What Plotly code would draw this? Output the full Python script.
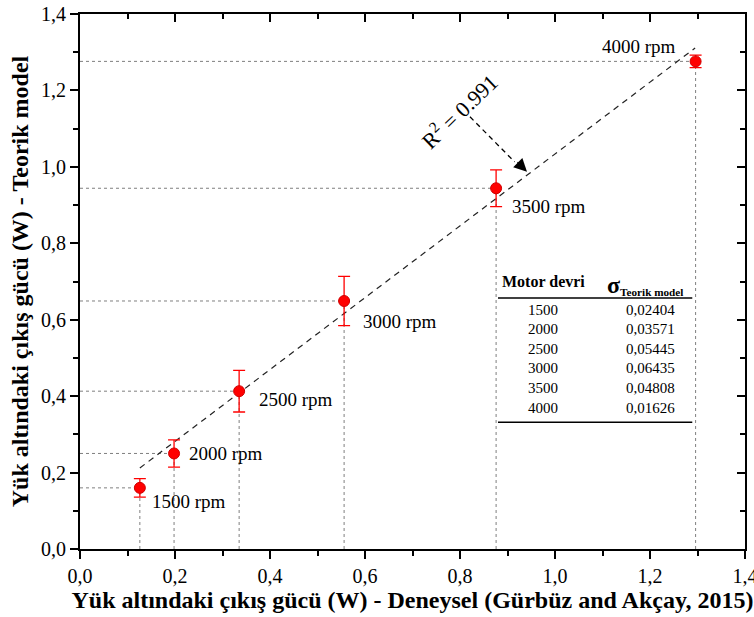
import plotly.graph_objects as go

# Data
rpm_labels = ["1500 rpm", "2000 rpm", "2500 rpm", "3000 rpm", "3500 rpm", "4000 rpm"]
x_exp = [0.126, 0.198, 0.335, 0.556, 0.876, 1.296]
y_model = [0.160, 0.250, 0.413, 0.649, 0.944, 1.276]
sigma = [0.02404, 0.03571, 0.05445, 0.06435, 0.04808, 0.01626]
table_rpm = ["1500", "2000", "2500", "3000", "3500", "4000"]
table_sigma = ["0,02404", "0,03571", "0,05445", "0,06435", "0,04808", "0,01626"]
fit_x = [0.126, 1.295]
fit_y = [0.212, 1.311]
r2_text = "R<sup>2</sup> = 0.991"
tick_vals = [0.0, 0.2, 0.4, 0.6, 0.8, 1.0, 1.2, 1.4]
tick_text = ["0,0", "0,2", "0,4", "0,6", "0,8", "1,0", "1,2", "1,4"]

FONT = "Liberation Serif"

fig = go.Figure()

# guide lines
for xi, yi in zip(x_exp, y_model):
    fig.add_trace(go.Scatter(x=[0, xi], y=[yi, yi], mode="lines",
                             line=dict(color="#7f7f7f", width=1, dash="3px,3px"),
                             showlegend=False, hoverinfo="skip"))
    fig.add_trace(go.Scatter(x=[xi, xi], y=[0, yi], mode="lines",
                             line=dict(color="#7f7f7f", width=1, dash="3px,3px"),
                             showlegend=False, hoverinfo="skip"))

# fit line
fig.add_trace(go.Scatter(x=fit_x, y=fit_y, mode="lines",
                         line=dict(color="#222222", width=1.2, dash="6px,5px"),
                         showlegend=False, hoverinfo="skip"))

# points
fig.add_trace(go.Scatter(x=x_exp, y=y_model, mode="markers",
                         marker=dict(color="#ff0000", size=11,
                                     line=dict(color="#d00000", width=1)),
                         error_y=dict(type="data", array=sigma, color="#ff0000",
                                      thickness=1.3, width=6),
                         showlegend=False))

# point labels (offset in pixels)
label_off = [(10, -14), (13, 0), (18, -8), (17, -21), (14, -18), (-18, 15)]
for (xi, yi, lab, (dx, dy)) in zip(x_exp, y_model, rpm_labels, label_off):
    fig.add_annotation(x=xi, y=yi, text=lab, showarrow=False,
                       xanchor="left" if dx > 0 else "right", yanchor="middle",
                       xshift=dx, yshift=dy,
                       font=dict(family=FONT, size=19, color="black"))

# R^2 text
fig.add_annotation(x=0.796, y=1.147, text=r2_text, showarrow=False, textangle=-44,
                   font=dict(family=FONT, size=22, color="black"))
# dashed arrow
fig.add_shape(type="line", x0=0.821, y0=1.131, x1=0.915, y1=1.013,
              line=dict(color="black", width=1.3, dash="5px,4px"))
fig.add_annotation(x=0.941, y=0.987, ax=-11, ay=-11, text="", showarrow=True,
                   arrowhead=2, arrowsize=2, arrowwidth=1.3, arrowcolor="black",
                   standoff=0, startstandoff=0)

# table
fig.add_annotation(x=0.975, y=0.700, text="<b>Motor devri</b>", showarrow=False,
                   font=dict(family=FONT, size=16, color="black"))
fig.add_annotation(x=1.190, y=0.690,
                   text="<b><span style='font-size:24px'>σ</span><sub>Teorik model</sub></b>",
                   showarrow=False, font=dict(family=FONT, size=16, color="black"))
fig.add_shape(type="line", x0=0.880, x1=1.289, y0=0.657, y1=0.657,
              line=dict(color="black", width=1.5))
fig.add_shape(type="line", x0=0.880, x1=1.289, y0=0.332, y1=0.332,
              line=dict(color="black", width=1.5))
row_y = [0.626, 0.575, 0.523, 0.473, 0.421, 0.369]
for ry, r, s in zip(row_y, table_rpm, table_sigma):
    fig.add_annotation(x=0.975, y=ry, text=r, showarrow=False,
                       font=dict(family=FONT, size=15, color="black"))
    fig.add_annotation(x=1.200, y=ry, text=s, showarrow=False,
                       font=dict(family=FONT, size=15, color="black"))

# mirrored axes for inward ticks on top/right
fig.add_trace(go.Scatter(x=[None], y=[None], xaxis="x2", yaxis="y2", showlegend=False))

tickfont = dict(family=FONT, size=20, color="black")
common = dict(range=[0, 1.4], tickvals=tick_vals, ticktext=tick_text, showgrid=False,
              zeroline=False, showline=True, linecolor="black", linewidth=2,
              tickwidth=2, tickcolor="black", automargin=False)
fig.update_layout(
    width=754, height=617,
    margin=dict(l=80, r=9, t=14, b=68),
    paper_bgcolor="white", plot_bgcolor="white",
    showlegend=False,
    xaxis=dict(**common, ticks="outside", ticklen=8,
               minor=dict(ticks="outside", ticklen=5, tickwidth=2, dtick=0.1, tickcolor="black"),
               tickfont=tickfont, ticklabeloverflow="allow",
               title=dict(text="<b>Yük altındaki çıkış gücü (W) - Deneysel (Gürbüz and Akçay, 2015)</b>",
                          font=dict(family=FONT, size=24, color="black"), standoff=4)),
    yaxis=dict(**common, ticks="outside", ticklen=8,
               minor=dict(ticks="outside", ticklen=5, tickwidth=2, dtick=0.1, tickcolor="black"),
               tickfont=tickfont, ticklabeloverflow="allow",
               title=dict(text="<b>Yük altındaki çıkış gücü (W) - Teorik model</b>",
                          font=dict(family=FONT, size=24, color="black"), standoff=6)),
    xaxis2=dict(**common, overlaying="x", side="top",
                ticks="inside", ticklen=8, showticklabels=False,
                minor=dict(ticks="inside", ticklen=5, tickwidth=2, dtick=0.1, tickcolor="black")),
    yaxis2=dict(**common, overlaying="y", side="right",
                ticks="inside", ticklen=8, showticklabels=False,
                minor=dict(ticks="inside", ticklen=5, tickwidth=2, dtick=0.1, tickcolor="black")),
)

fig.write_html("out.html")
